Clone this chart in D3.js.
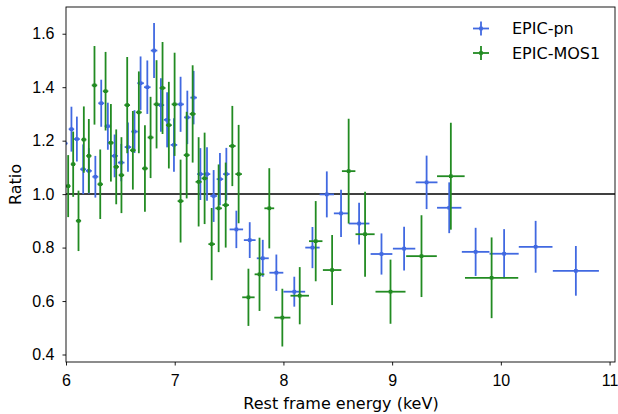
<!DOCTYPE html>
<html lang="en">
<head>
<meta charset="UTF-8">
<title>Ratio vs rest frame energy</title>
<script src="https://d3js.org/d3.v7.min.js"></script>
<style>
  body { margin: 0; background: #fff; }
  svg { font-family: "DejaVu Sans", sans-serif; }
  .tick text { font-size: 16px; fill: #000; }
</style>
</head>
<body>
<svg width="618" height="414"></svg>
<script>
// EPIC-pn
const pnX    = [5.99, 6.05, 6.10, 6.158, 6.21, 6.27, 6.324, 6.385, 6.447, 6.508, 6.57, 6.63, 6.686, 6.748, 6.81, 6.873, 6.93, 6.993, 7.054, 7.116, 7.174, 7.236, 7.297, 7.358, 7.416, 7.475, 7.567, 7.69, 7.81, 7.935, 8.10, 8.267, 8.399, 8.53, 8.696, 8.902, 9.11, 9.317, 9.525, 9.768, 10.03, 10.32, 10.69];
const pnXerr = [0.025, 0.025, 0.027, 0.027, 0.027, 0.027, 0.027, 0.03, 0.03, 0.03, 0.03, 0.03, 0.03, 0.03, 0.03, 0.03, 0.03, 0.03, 0.03, 0.03, 0.03, 0.03, 0.03, 0.03, 0.03, 0.03, 0.062, 0.054, 0.055, 0.064, 0.10, 0.066, 0.066, 0.066, 0.095, 0.10, 0.103, 0.10, 0.112, 0.127, 0.134, 0.155, 0.212];
const pnY    = [1.19, 1.243, 1.206, 1.093, 1.087, 1.065, 1.34, 1.254, 1.143, 1.118, 1.176, 1.234, 1.415, 1.40, 1.537, 1.333, 1.278, 1.184, 1.336, 1.287, 1.361, 1.075, 1.075, 0.993, 1.056, 1.075, 0.868, 0.828, 0.76, 0.706, 0.635, 0.80, 0.999, 0.928, 0.89, 0.776, 0.796, 1.044, 0.949, 0.784, 0.777, 0.803, 0.713];
const pnYerr = [0.04, 0.084, 0.084, 0.093, 0.085, 0.078, 0.088, 0.088, 0.08, 0.07, 0.092, 0.08, 0.10, 0.10, 0.103, 0.10, 0.103, 0.10, 0.103, 0.10, 0.10, 0.097, 0.10, 0.097, 0.098, 0.098, 0.07, 0.067, 0.069, 0.068, 0.056, 0.077, 0.086, 0.088, 0.078, 0.077, 0.082, 0.10, 0.095, 0.09, 0.092, 0.097, 0.093];

// EPIC-MOS1
const mosX    = [6.02, 6.066, 6.115, 6.164, 6.21, 6.262, 6.315, 6.364, 6.413, 6.462, 6.51, 6.563, 6.615, 6.67, 6.726, 6.778, 6.833, 6.888, 6.946, 6.999, 7.054, 7.11, 7.165, 7.22, 7.275, 7.34, 7.404, 7.469, 7.53, 7.588, 7.678, 7.78, 7.87, 7.99, 8.15, 8.297, 8.448, 8.60, 8.751, 8.985, 9.27, 9.54, 9.915];
const mosXerr = [0.022, 0.022, 0.024, 0.024, 0.024, 0.025, 0.025, 0.025, 0.025, 0.025, 0.025, 0.026, 0.026, 0.027, 0.027, 0.027, 0.027, 0.027, 0.027, 0.027, 0.027, 0.027, 0.027, 0.028, 0.028, 0.03, 0.03, 0.03, 0.03, 0.03, 0.057, 0.045, 0.045, 0.074, 0.085, 0.062, 0.085, 0.062, 0.088, 0.138, 0.141, 0.127, 0.245];
const mosY    = [1.03, 1.112, 0.90, 1.204, 1.143, 1.407, 1.037, 1.385, 1.192, 1.102, 1.071, 1.333, 1.164, 1.306, 1.096, 1.212, 1.336, 1.397, 1.258, 1.336, 0.974, 1.146, 1.30, 1.046, 1.059, 0.813, 0.947, 0.959, 1.18, 1.075, 0.614, 0.70, 0.947, 0.538, 0.62, 0.824, 0.716, 1.086, 0.85, 0.635, 0.768, 1.067, 0.687];
const mosYerr = [0.116, 0.122, 0.113, 0.124, 0.138, 0.147, 0.13, 0.147, 0.145, 0.14, 0.142, 0.18, 0.147, 0.153, 0.162, 0.152, 0.165, 0.172, 0.162, 0.193, 0.155, 0.162, 0.182, 0.167, 0.171, 0.135, 0.164, 0.159, 0.15, 0.184, 0.107, 0.137, 0.15, 0.108, 0.107, 0.15, 0.131, 0.196, 0.159, 0.12, 0.153, 0.2, 0.151];

const xTicks = [6, 7, 8, 9, 10, 11];
const yTicks = [0.4, 0.6, 0.8, 1.0, 1.2, 1.4, 1.6];

const mLeft = 66, mRight = 615, mTop = 7, mBottom = 362;
const svg = d3.select("svg");

const x = d3.scaleLinear().domain([6, 11.05]).range([mLeft, mRight]);
const y = d3.scaleLinear().domain([0.372, 1.70]).range([mBottom, mTop]);

svg.append("defs").append("clipPath").attr("id", "clip")
  .append("rect").attr("x", mLeft).attr("y", mTop)
  .attr("width", mRight - mLeft).attr("height", mBottom - mTop);

const plot = svg.append("g").attr("clip-path", "url(#clip)");

// reference line at ratio = 1
plot.append("line")
  .attr("x1", mLeft).attr("x2", mRight)
  .attr("y1", y(1)).attr("y2", y(1))
  .attr("stroke", "#000").attr("stroke-width", 1.5);

function drawSeries(xs, xe, ys, ye, color) {
  const data = xs.map((d, i) => ({ x: d, xe: xe[i], y: ys[i], ye: ye[i] }));
  const g = plot.append("g").attr("stroke", color).attr("stroke-width", 1.8);
  g.selectAll(".h").data(data).join("line").attr("class", "h")
    .attr("x1", d => x(d.x - d.xe)).attr("x2", d => x(d.x + d.xe))
    .attr("y1", d => y(d.y)).attr("y2", d => y(d.y));
  g.selectAll(".v").data(data).join("line").attr("class", "v")
    .attr("x1", d => x(d.x)).attr("x2", d => x(d.x))
    .attr("y1", d => y(d.y - d.ye)).attr("y2", d => y(d.y + d.ye));
  plot.append("g").selectAll("rect").data(data).join("rect")
    .attr("x", d => x(d.x) - 1.8).attr("y", d => y(d.y) - 1.8)
    .attr("width", 3.6).attr("height", 3.6).attr("fill", color);
}

const blue = "#4169e1", green = "#228b22";
drawSeries(pnX, pnXerr, pnY, pnYerr, blue);
drawSeries(mosX, mosXerr, mosY, mosYerr, green);

// axes
const xAxis = svg.append("g").attr("transform", `translate(0,${mBottom})`)
  .call(d3.axisBottom(x).tickValues(xTicks).tickFormat(d3.format("d")).tickSize(3.5).tickPadding(9.5));
const yAxis = svg.append("g").attr("transform", `translate(${mLeft},0)`)
  .call(d3.axisLeft(y).tickValues(yTicks).tickFormat(d3.format(".1f")).tickSize(3.5).tickPadding(8));
[xAxis, yAxis].forEach(a => {
  a.select(".domain").remove();
  a.selectAll(".tick line").attr("stroke", "#000").attr("stroke-width", 0.9);
});

svg.append("rect")
  .attr("x", mLeft).attr("y", mTop)
  .attr("width", mRight - mLeft).attr("height", mBottom - mTop)
  .attr("fill", "none").attr("stroke", "#000").attr("stroke-width", 0.9);

svg.append("text")
  .attr("x", 341).attr("y", 409)
  .attr("text-anchor", "middle").attr("font-size", 16)
  .text("Rest frame energy (keV)");

svg.append("text")
  .attr("transform", `translate(21,${(mTop + mBottom) / 2}) rotate(-90)`)
  .attr("text-anchor", "middle").attr("font-size", 16)
  .text("Ratio");

// legend
const legend = svg.append("g");
[["EPIC-pn", blue, 28.5], ["EPIC-MOS1", green, 53]].forEach(([name, c, ly]) => {
  const item = legend.append("g").attr("stroke", c).attr("stroke-width", 1.8);
  item.append("line").attr("x1", 473).attr("x2", 489).attr("y1", ly).attr("y2", ly);
  item.append("line").attr("x1", 481).attr("x2", 481).attr("y1", ly - 7).attr("y2", ly + 7);
  legend.append("rect").attr("x", 479.2).attr("y", ly - 1.8)
    .attr("width", 3.6).attr("height", 3.6).attr("fill", c);
  legend.append("text").attr("x", 512).attr("y", ly + 5.8)
    .attr("font-size", 16).text(name);
});
</script>
</body>
</html>
